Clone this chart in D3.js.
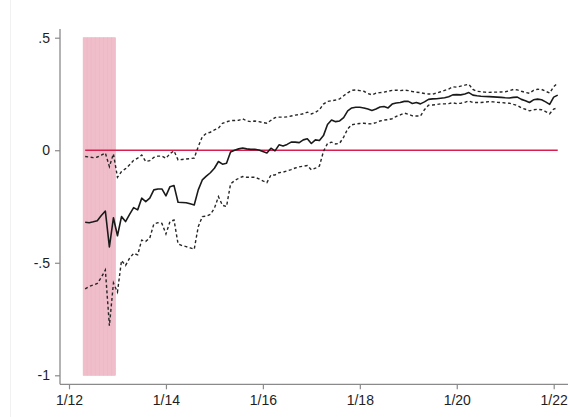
<!DOCTYPE html>
<html>
<head>
<meta charset="utf-8">
<script src="https://cdn.jsdelivr.net/npm/d3@7/dist/d3.min.js"></script>
<style>
  html, body { margin: 0; padding: 0; background: #fff; }
  svg { display: block; }
  text { font-family: "Liberation Sans", Arial, sans-serif; }
</style>
</head>
<body>
<script>
// Monthly estimates, May 2012 - Feb 2022
const firstMonth = "2012-05";
const estimate = [
  -0.320, -0.322, -0.318, -0.313, -0.290, -0.270, -0.430, -0.300, -0.380, -0.295,
  -0.317, -0.285, -0.255, -0.265, -0.213, -0.228, -0.213, -0.176, -0.172, -0.172,
  -0.203, -0.162, -0.157, -0.231, -0.232, -0.233, -0.238, -0.243, -0.176, -0.132,
  -0.115, -0.100, -0.080, -0.050, -0.062, -0.058, -0.008, 0.000, 0.006, 0.010,
  0.006, 0.004, 0.004, 0.001, -0.006, -0.012, 0.009, -0.003, 0.024, 0.019,
  0.026, 0.036, 0.036, 0.034, 0.046, 0.051, 0.030, 0.046, 0.043, 0.065,
  0.114, 0.134, 0.127, 0.130, 0.145, 0.175, 0.188, 0.191, 0.191, 0.188,
  0.183, 0.177, 0.183, 0.192, 0.194, 0.188, 0.205, 0.210, 0.212, 0.217,
  0.217, 0.208, 0.212, 0.206, 0.215, 0.226, 0.228, 0.229, 0.231, 0.233,
  0.238, 0.246, 0.247, 0.246, 0.250, 0.256, 0.245, 0.242, 0.240, 0.239,
  0.238, 0.237, 0.236, 0.235, 0.233, 0.232, 0.235, 0.236, 0.226, 0.220,
  0.212, 0.224, 0.227, 0.224, 0.215, 0.204, 0.236, 0.245
];
const upper = [
  -0.028, -0.030, -0.033, -0.030, -0.022, -0.012, -0.073, -0.016, -0.120, -0.095,
  -0.082, -0.065, -0.045, -0.035, -0.021, -0.050, -0.046, -0.032, -0.026, -0.026,
  -0.036, -0.015, -0.003, -0.043, -0.041, -0.039, -0.037, -0.035, 0.016, 0.060,
  0.075, 0.080, 0.090, 0.098, 0.120, 0.126, 0.132, 0.132, 0.133, 0.140,
  0.130, 0.127, 0.130, 0.127, 0.123, 0.120, 0.133, 0.145, 0.147, 0.147,
  0.148, 0.152, 0.156, 0.158, 0.162, 0.169, 0.161, 0.168, 0.180, 0.205,
  0.217, 0.220, 0.223, 0.228, 0.242, 0.255, 0.266, 0.268, 0.265, 0.262,
  0.252, 0.246, 0.254, 0.256, 0.258, 0.262, 0.266, 0.267, 0.265, 0.267,
  0.265, 0.261, 0.258, 0.256, 0.252, 0.250, 0.249, 0.254, 0.260, 0.266,
  0.272, 0.282, 0.280, 0.285, 0.289, 0.293, 0.270, 0.262, 0.260, 0.258,
  0.257, 0.258, 0.258, 0.259, 0.260, 0.264, 0.270, 0.268, 0.262, 0.257,
  0.253, 0.266, 0.271, 0.270, 0.262, 0.254, 0.282, 0.298
];
const lower = [
  -0.616, -0.605, -0.599, -0.592, -0.565, -0.532, -0.780, -0.590, -0.630, -0.490,
  -0.512, -0.480, -0.458, -0.465, -0.399, -0.405, -0.390, -0.328, -0.322, -0.325,
  -0.372, -0.317, -0.310, -0.416, -0.424, -0.428, -0.434, -0.440, -0.340, -0.295,
  -0.293, -0.285, -0.258, -0.206, -0.245, -0.250, -0.150, -0.135, -0.125, -0.117,
  -0.120, -0.120, -0.120, -0.127, -0.136, -0.144, -0.110, -0.110, -0.100, -0.097,
  -0.092, -0.086, -0.079, -0.074, -0.071, -0.068, -0.087, -0.080, -0.070, -0.005,
  0.030, 0.036, 0.028, 0.031, 0.058, 0.095, 0.113, 0.117, 0.119, 0.120,
  0.118, 0.117, 0.123, 0.130, 0.134, 0.136, 0.140, 0.150, 0.157, 0.165,
  0.160, 0.153, 0.152, 0.152, 0.180, 0.200, 0.201, 0.203, 0.206, 0.206,
  0.207, 0.211, 0.207, 0.209, 0.213, 0.219, 0.212, 0.212, 0.212, 0.214,
  0.216, 0.215, 0.213, 0.212, 0.210, 0.209, 0.204, 0.199, 0.188, 0.182,
  0.175, 0.180, 0.182, 0.180, 0.172, 0.162, 0.183, 0.188
];
// Shaded months (one bar per month)
const shadedMonths = ["2012-05", "2012-06", "2012-07", "2012-08", "2012-09", "2012-10", "2012-11", "2012-12"];
const shadeRange = [-1, 0.5];
const yTicks = [0.5, 0, -0.5, -1];
const yTickLabels = [".5", "0", "-.5", "-1"];
const xTicks = [2012, 2014, 2016, 2018, 2020, 2022];
const xTickLabels = ["1/12", "1/14", "1/16", "1/18", "1/20", "1/22"];

const W = 570, H = 417;
const toYear = s => { const [y, m] = s.split("-").map(Number); return y + (m - 1) / 12; };
const t0 = toYear(firstMonth);
const months = estimate.map((_, i) => t0 + i / 12);

const x = d3.scaleLinear().domain([2012, 2022]).range([69, 553.7]);
const y = d3.scaleLinear().domain([-1, 0.5]).range([375.3, 37.7]);

const svg = d3.select("body").append("svg").attr("width", W).attr("height", H);
svg.append("rect").attr("width", W).attr("height", H).attr("fill", "#fff");
svg.append("line").attr("x1", 10.5).attr("x2", 10.5).attr("y1", 0).attr("y2", H)
  .attr("stroke", "#f1f1f1").attr("stroke-width", 1);

// shaded period
const monthW = x(2012 + 1 / 12) - x(2012);
svg.append("g").selectAll("rect").data(shadedMonths).join("rect")
  .attr("x", d => x(toYear(d)) - monthW / 2)
  .attr("width", monthW)
  .attr("y", y(shadeRange[1]))
  .attr("height", y(shadeRange[0]) - y(shadeRange[1]))
  .attr("fill", "#f0bdcb")
  .attr("stroke", "#ecb3c3")
  .attr("stroke-width", 0.6);

// axes
const gx = svg.append("g").attr("transform", `translate(0,384.3)`)
  .call(d3.axisBottom(x).tickValues(xTicks).tickSize(5).tickPadding(6)
    .tickFormat((d, i) => xTickLabels[i]));
gx.select(".domain").attr("d", "M60,0H568");
const gy = svg.append("g").attr("transform", `translate(60,0)`)
  .call(d3.axisLeft(y).tickValues(yTicks).tickSize(5).tickPadding(5)
    .tickFormat((d, i) => yTickLabels[i]));
gy.select(".domain").attr("d", "M0,29V384.3");
[gx, gy].forEach(g => {
  g.selectAll(".domain").attr("stroke", "#8a8a8a").attr("stroke-width", 1.3);
  g.selectAll(".tick line").attr("stroke", "#8a8a8a").attr("stroke-width", 1.2);
  g.selectAll("text").attr("font-size", 14).attr("fill", "#1e1e1e")
    .attr("font-family", "'Liberation Sans', Arial, sans-serif");
});

// reference line at zero
svg.append("line")
  .attr("x1", x(months[0])).attr("x2", x(months[months.length - 1]))
  .attr("y1", y(0)).attr("y2", y(0))
  .attr("stroke", "#d81e4e").attr("stroke-width", 1.5);

const line = vals => d3.line().x((d, i) => x(months[i])).y(d => y(d))(vals);

svg.append("path").attr("d", line(upper)).attr("fill", "none")
  .attr("stroke", "#262626").attr("stroke-width", 1.4).attr("stroke-dasharray", "3,2.5");
svg.append("path").attr("d", line(lower)).attr("fill", "none")
  .attr("stroke", "#262626").attr("stroke-width", 1.4).attr("stroke-dasharray", "3,2.5");
svg.append("path").attr("d", line(estimate)).attr("fill", "none")
  .attr("stroke", "#1a1a1a").attr("stroke-width", 1.6).attr("stroke-linejoin", "round");
</script>
</body>
</html>
